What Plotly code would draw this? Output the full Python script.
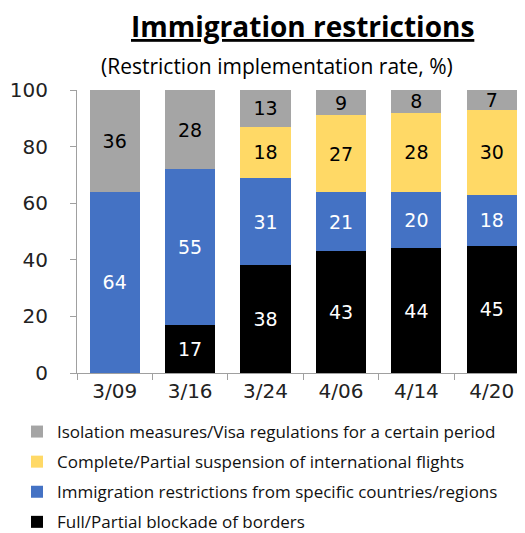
import plotly.graph_objects as go

categories = ["3/09", "3/16", "3/24", "4/06", "4/14", "4/20"]
blockade = [None, 17, 38, 43, 44, 45]
specific = [64, 55, 31, 21, 20, 18]
flights = [None, None, 18, 27, 28, 30]
isolation = [36, 28, 13, 9, 8, 7]

series = [
    ("Full/Partial blockade of borders", blockade, "#000000", "white", 4),
    ("Immigration restrictions from specific countries/regions", specific, "#4472C4", "white", 3),
    ("Complete/Partial suspension of international flights", flights, "#FFD966", "black", 2),
    ("Isolation measures/Visa regulations for a certain period", isolation, "#A5A5A5", "black", 1),
]

# page has an 8px body margin; figure coordinates = page coordinates - 8
W, H = 517, 525
ML, MR, MT, MB = 69, 0, 82, 160

fig = go.Figure()
for name, vals, color, tcolor, rank in series:
    fig.add_trace(go.Bar(
        x=categories, y=vals, name=name,
        marker=dict(color=color, line=dict(width=0)),
        text=[("" if v is None else str(v)) for v in vals],
        textposition="inside", insidetextanchor="middle", textangle=0,
        constraintext="none",
        textfont=dict(family="DejaVu Sans", size=19, color=tcolor),
        legendgroup=name, legendrank=rank,
    ))

pw = W - ML - MR
ph = H - MT - MB


def px2paper(px, py):
    # px, py given in page pixels
    return (px - 8 - ML) / pw, 1 + (MT - (py - 8)) / ph


tx, ty = px2paper(302, 26)
sx, sy = px2paper(277, 66)

fig.update_layout(
    width=W, height=H,
    margin=dict(l=ML, r=MR, t=MT, b=MB, autoexpand=False),
    barmode="stack", bargap=0.335,
    plot_bgcolor="white", paper_bgcolor="white",
    showlegend=True,
    legend=dict(
        traceorder="grouped", orientation="v",
        xref="container", yref="container",
        x=9 / W, y=1 - 406 / H, xanchor="left", yanchor="top",
        font=dict(family="Open Sans", size=17, color="#111111"),
        tracegroupgap=5, itemwidth=30,
    ),
    xaxis=dict(
        type="category", range=[-0.5, 5.44],
        tickson="boundaries", ticks="outside", ticklen=6, tickcolor="#A0A0A0",
        showline=True, linecolor="#A0A0A0", linewidth=1,
        showgrid=False,
        tickfont=dict(family="DejaVu Sans", size=20, color="#222222"),
    ),
    yaxis=dict(
        range=[0, 100], tickvals=[0, 20, 40, 60, 80, 100],
        ticks="outside", ticklen=6, tickcolor="#A0A0A0",
        showline=True, linecolor="#A0A0A0", linewidth=1,
        showgrid=False, zeroline=False, ticklabelstandoff=18,
        tickfont=dict(family="DejaVu Sans", size=20, color="#222222"),
    ),
    annotations=[
        dict(text="<b><u>Immigration restrictions</u></b>", x=tx, y=ty,
             xref="paper", yref="paper", showarrow=False,
             xanchor="center", yanchor="middle",
             font=dict(family="Open Sans", size=28, color="black")),
        dict(text="(Restriction implementation rate, %)", x=sx, y=sy,
             xref="paper", yref="paper", showarrow=False,
             xanchor="center", yanchor="middle",
             font=dict(family="Open Sans", size=21, color="black")),
    ],
)

fig.write_html("out.html")
